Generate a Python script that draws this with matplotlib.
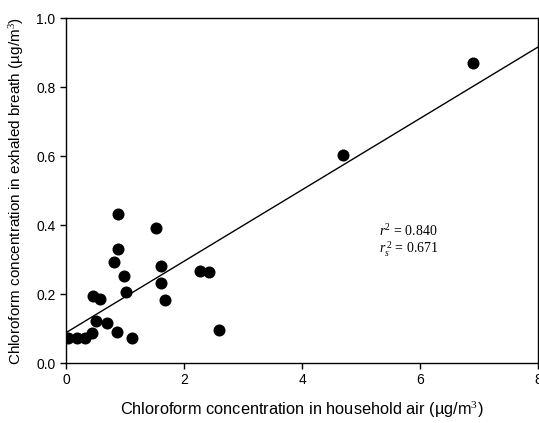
import matplotlib
matplotlib.use("Agg")
import matplotlib.pyplot as plt
import numpy as np

household_air = [0.04, 0.18, 0.32, 0.44, 0.45, 0.51, 0.58, 0.69, 0.81, 0.86, 0.88, 0.88,
                 0.99, 1.02, 1.12, 1.53, 1.61, 1.61, 1.67, 2.27, 2.43, 2.59, 4.69, 6.90]
exhaled_breath = [0.072, 0.072, 0.072, 0.086, 0.194, 0.123, 0.186, 0.117, 0.294, 0.091, 0.330, 0.431,
                  0.253, 0.205, 0.073, 0.393, 0.280, 0.231, 0.183, 0.266, 0.264, 0.096, 0.602, 0.870]
fit_intercept = 0.088
fit_slope = 0.1036
fit_x = [0, 8]
r2_text = "$r^2$ = 0.840"
rs2_text = "$r_s^{\\,2}$ = 0.671"

plt.rcParams['font.family'] = ['Liberation Sans', 'DejaVu Sans']
plt.rcParams['mathtext.fontset'] = 'custom'
plt.rcParams['mathtext.rm'] = 'Liberation Serif'
plt.rcParams['mathtext.it'] = 'Liberation Serif:italic'

fig = plt.figure(figsize=(5.39, 4.23), dpi=100)
ax = fig.add_axes([0.1224, 0.1418, 0.876, 0.815])

ax.scatter(household_air, exhaled_breath, s=75, color='black', zorder=3, linewidths=0)
fx = np.array(fit_x, dtype=float)
ax.plot(fx, fit_intercept + fit_slope * fx, color='black', lw=1.0)

ax.set_xlim(0, 8)
ax.set_ylim(0, 1.0)
ax.set_xticks([0, 2, 4, 6, 8])
ax.set_xticklabels(['0', '2', '4', '6', '8'])
ax.set_yticks([0, 0.2, 0.4, 0.6, 0.8, 1.0])
ax.set_yticklabels(['0.0', '0.2', '0.4', '0.6', '0.8', '1.0'])
ax.tick_params(direction='out', length=4, width=1, labelsize=10)
for sp in ax.spines.values():
    sp.set_linewidth(1.0)

ax.set_xlabel('Chloroform concentration in household air (\u00b5g/m$^3$)', fontsize=11.8, labelpad=9)
ax.set_ylabel('Chloroform concentration in exhaled breath (\u00b5g/m$^3$)', fontsize=11, labelpad=7)

ax.text(5.3, 0.353, r2_text + "\n" + rs2_text, fontsize=10, family='Liberation Serif',
        va='center', ha='left', linespacing=1.05)

fig.savefig('out.png', dpi=100)
